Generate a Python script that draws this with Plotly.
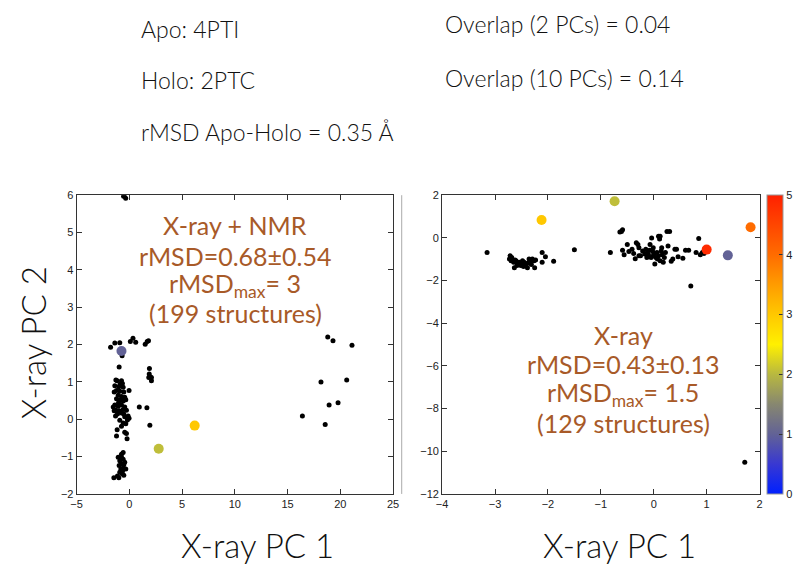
import plotly.graph_objects as go

W, H = 804, 566

# ---------------- data ----------------
# Left panel: X-ray + NMR (black structures)
left_x = [-0.50, -0.35, -0.55,
          -1.78, -1.38, -0.91, 0.09, 0.34, 0.60, 1.50, 1.69, 1.81,
          -0.69, -0.97,
          1.90, 1.88, 1.97, 2.09, 2.09, 1.84,
          0.94, 1.66, 1.94,
          -1.28, -1.16, -0.75, -0.66, -1.38, -1.00, -0.59, -1.22, -0.91, -0.53,
          -0.03, -1.44, -1.06, -0.75, -0.44, -1.22, -0.91, -0.59, -0.34, -1.38,
          -1.06, -0.75, -0.44, -1.28, -0.97, -0.59, -0.28, -1.44, -1.13, -0.75,
          -0.12, -0.03, -0.44, -0.91, -0.59, -0.75, -0.44, -0.28, -1.16, -1.22,
          -0.22, -1.53, -1.31, -0.88, -0.53, -1.03, -0.69, -0.34, -0.19,
          -0.59, -0.75, -1.06, -0.91, -0.59, -0.75, -0.97, -0.53, -0.81, -0.59,
          -0.34, -0.91, -0.66, -1.13, -1.47, -1.00, -0.53, -0.75, -0.44, -0.69,
          16.40, 18.16, 18.56, 18.93, 19.78, 20.60, 21.10, 19.30, 18.80]
left_y = [6.00, 5.92, 5.97,
          1.93, 2.04, 2.05, 2.08, 2.17, 2.06, 2.01, 2.08, 2.10,
          1.70, 1.40,
          1.36, 1.21, 1.14, 1.12, 1.03, 1.12,
          0.33, 0.31, -0.16,
          1.05, 1.03, 1.03, 0.96, 0.90, 0.87, 0.86, 0.77, 0.75, 0.73,
          0.77, 0.73, 0.64, 0.61, 0.59, 0.55, 0.51, 0.49, 0.52, 0.38,
          0.35, 0.38, 0.33, 0.24, 0.23, 0.26, 0.24, 0.23, 0.14, 0.17,
          0.09, 0.03, 0.07, -0.03, -0.10, -0.19, -0.35, -0.38, -0.28, -0.45,
          -0.52, 0.33, 0.09, 0.94, 0.14, 0.44, 0.55, -0.12, -0.02,
          -0.89, -0.94, -1.02, -1.11, -1.07, -1.20, -1.24, -1.22, -1.33, -1.31,
          -1.33, -1.42, -1.39, -1.52, -1.57, -1.57, -1.50, -1.02, -1.15, -1.46,
          0.09, 1.00, -0.14, 0.38, 0.44, 1.05, 1.98, 2.10, 2.20]

# Left panel highlighted structures (colour = rMSD)
left_hi_x = [-0.75, 2.78, 6.19]
left_hi_y = [1.83, -0.79, -0.17]
left_hi_c = [1.0, 2.05, 3.0]

# Right panel: X-ray only (black structures)
right_x = [-3.15,
           -2.715, -2.727, -2.696, -2.634, -2.647, -2.604, -2.573, -2.542, -2.511, -2.480,
           -2.449, -2.418, -2.387, -2.356, -2.325, -2.294, -2.263, -2.233, -2.251, -2.387,
           -2.511, -2.585, -2.109, -2.109, -2.047, -1.892, -2.684, -2.622, -2.461, -2.313,
           -1.50, -0.82, -0.61, -0.59, -0.64,
           -0.59, -0.56, -0.50, -0.47, -0.41, -0.38, -0.35, -0.33, -0.30, -0.28,
           -0.25, -0.21, -0.17, -0.15, -0.12, -0.10, -0.07, -0.04, -0.02, -0.01,
           0.01, 0.02, 0.04, 0.06, 0.09, 0.11, 0.12, 0.14, 0.16, 0.18,
           0.20, 0.22, 0.25, 0.27, 0.30, 0.33, 0.36, 0.40, 0.43, 0.46,
           0.55, 0.60, 0.66, 0.70, 0.80, 0.85, 0.88, 0.92, 0.95,
           -0.13, -0.05, 0.07, 0.12, -0.28, 0.09, 0.15, -0.08, -0.01,
           1.72]
right_y = [-0.69,
           -0.84, -0.99, -1.07, -1.40, -1.14, -1.07, -1.19, -1.14, -1.22, -1.07,
           -1.14, -1.25, -1.19, -0.99, -1.07, -0.99, -1.07, -1.04, -1.40, -1.40,
           -1.30, -1.30, -0.69, -1.14, -0.88, -1.10, -0.92, -1.04, -1.34, -1.25,
           -0.56, -0.69, 0.30, 0.38, 0.27,
           -0.58, -0.79, -0.31, -0.64, -0.53, -0.73, -0.98, -0.23, -0.31, -0.46,
           -0.84, -0.61, -0.76, -0.53, -0.69, -0.79, -0.31, 0.00, -0.64, -0.84,
           -0.73, -1.22, -0.92, -0.69, 0.08, -0.05, 0.08, -0.61, -0.79, -1.14,
           -0.92, -0.69, 0.30, -0.38, 0.30, -1.10, -0.99, -0.53, -0.53, -0.88,
           -0.95, -0.58, -0.58, -2.26, -0.69, -0.03, -0.79, -0.69, -0.73,
           -0.92, -0.92, -0.99, -1.07, -0.84, -0.84, -0.46, -0.58, -0.46,
           -10.52]

# Right panel highlighted structures
right_hi_x = [-2.12, -0.74, 1.83, 1.00, 1.40]
right_hi_y = [0.84, 1.72, 0.50, -0.55, -0.82]
right_hi_c = [3.0, 2.05, 4.0, 4.85, 1.0]

colorbar_ticks = [0, 1, 2, 3, 4, 5]
left_xticks = [-5, 0, 5, 10, 15, 20, 25]
left_yticks = [-2, -1, 0, 1, 2, 3, 4, 5, 6]
right_xticks = [-4, -3, -2, -1, 0, 1, 2]
right_yticks = [-12, -10, -8, -6, -4, -2, 0, 2]

header_left = ["Apo: 4PTI", "Holo: 2PTC", "rMSD Apo-Holo = 0.35 Å"]
header_right = ["Overlap (2 PCs) = 0.04", "Overlap (10 PCs) = 0.14"]
left_label = ["X-ray + NMR", "rMSD=0.68±0.54", "rMSD<sub>max</sub>= 3", "(199 structures)"]
right_label = ["X-ray", "rMSD=0.43±0.13", "rMSD<sub>max</sub>= 1.5", "(129 structures)"]

# ---------------- figure ----------------
def px(x):
    return x / W

def py(y):
    return 1 - y / H

colorscale = [[0.0, '#0020ff'], [0.1, '#3838d2'], [0.2, '#626296'], [0.3, '#878770'],
              [0.4, '#b8b840'], [0.5, '#fff000'], [0.6, '#ffc800'], [0.7, '#ff9c00'],
              [0.8, '#ff6c00'], [1.0, '#ff2000']]

fig = go.Figure()
fig.add_trace(go.Scatter(x=left_x, y=left_y, mode='markers', xaxis='x', yaxis='y',
                         marker=dict(color='black', size=5), showlegend=False))
fig.add_trace(go.Scatter(x=left_hi_x, y=left_hi_y, mode='markers', xaxis='x', yaxis='y',
                         marker=dict(color=left_hi_c, coloraxis='coloraxis', size=10),
                         showlegend=False))
fig.add_trace(go.Scatter(x=right_x, y=right_y, mode='markers', xaxis='x2', yaxis='y2',
                         marker=dict(color='black', size=5), showlegend=False))
fig.add_trace(go.Scatter(x=right_hi_x, y=right_hi_y, mode='markers', xaxis='x2', yaxis='y2',
                         marker=dict(color=right_hi_c, coloraxis='coloraxis', size=10),
                         showlegend=False))

tickfont = dict(family='Liberation Sans, Arial', size=11, color='#222')
axis_common = dict(showline=True, linecolor='#333', linewidth=1, mirror='ticks',
                   ticks='inside', ticklen=5, tickcolor='#333', showgrid=False,
                   zeroline=False, tickfont=tickfont)

y_dom = [py(498.5), py(193.3)]
fig.update_layout(
    width=W, height=H, autosize=False, margin=dict(l=0, r=0, t=0, b=0, pad=0),
    paper_bgcolor='white', plot_bgcolor='white',
    xaxis=dict(domain=[px(71.7), px(393)], range=[-5, 25], tickvals=left_xticks,
               anchor='y', **axis_common),
    yaxis=dict(domain=y_dom, range=[-2, 6], tickvals=left_yticks, anchor='x', **axis_common),
    xaxis2=dict(domain=[px(442.7), px(765)], range=[-4, 2], tickvals=right_xticks,
                anchor='y2', **axis_common),
    yaxis2=dict(domain=y_dom, range=[-12, 2], tickvals=right_yticks, anchor='x2', **axis_common),
    coloraxis=dict(colorscale=colorscale, cmin=0, cmax=5,
                   colorbar=dict(thickness=16, x=px(772.7), xanchor='left', xpad=0,
                                 len=y_dom[1] - y_dom[0], lenmode='fraction',
                                 y=y_dom[0], yanchor='bottom', ypad=0,
                                 outlinewidth=1, outlinecolor='#999',
                                 tickvals=colorbar_ticks, ticks='inside', ticklen=4,
                                 tickcolor='#333', tickprefix='\u2007',
                                 tickfont=tickfont)),
)

# separator line next to the left panel
fig.add_shape(type='line', xref='paper', yref='paper', x0=px(401.7), x1=px(401.7),
              y0=y_dom[0], y1=y_dom[1], line=dict(color='#aaa', width=1))

font_main = 'Lato, Noto Sans, sans-serif'
for txt, yy in zip(header_left, [23, 76, 129]):
    fig.add_annotation(text=txt, xref='paper', yref='paper', x=px(135), y=py(yy),
                       xanchor='left', yanchor='middle', showarrow=False,
                       font=dict(family=font_main, size=23, color='#111', weight=300))
for txt, yy in zip(header_right, [18, 74]):
    fig.add_annotation(text=txt, xref='paper', yref='paper', x=px(444), y=py(yy),
                       xanchor='left', yanchor='middle', showarrow=False,
                       font=dict(family=font_main, size=23, color='#111', weight=300))

brown = '#a85a28'
for txt, yy in zip(left_label, [224, 255, 285, 314]):
    fig.add_annotation(text=txt, xref='paper', yref='paper', x=px(232.5), y=py(yy),
                       xanchor='center', yanchor='middle', showarrow=False,
                       font=dict(family=font_main, size=25, color=brown))
for txt, yy in zip(right_label, [336, 366, 396, 426]):
    fig.add_annotation(text=txt, xref='paper', yref='paper', x=px(626.5), y=py(yy),
                       xanchor='center', yanchor='middle', showarrow=False,
                       font=dict(family=font_main, size=25, color=brown))

title_font = dict(family=font_main, size=33, color='#111', weight=300)
fig.add_annotation(text='X-ray PC 2', xref='paper', yref='paper', x=px(27), y=py(344),
                   textangle=-90, xanchor='center', yanchor='middle', showarrow=False,
                   font=title_font)
fig.add_annotation(text='X-ray PC 1', xref='paper', yref='paper', x=px(255), y=py(551),
                   xanchor='center', yanchor='middle', showarrow=False, font=title_font)
fig.add_annotation(text='X-ray PC 1', xref='paper', yref='paper', x=px(623), y=py(551),
                   xanchor='center', yanchor='middle', showarrow=False, font=title_font)

fig.write_html('out.html', default_width='804px', default_height='566px',
               config={'displayModeBar': False, 'responsive': False},
               post_script="document.body.style.margin='0';document.body.style.overflow='hidden';")
